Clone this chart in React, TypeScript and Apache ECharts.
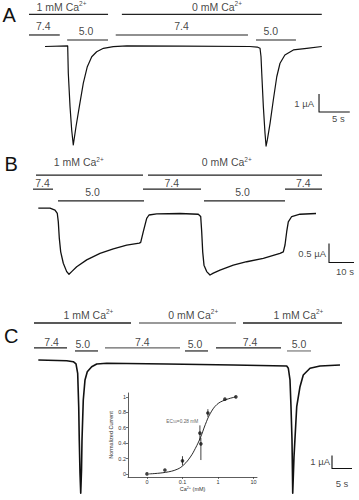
import React, { useEffect, useRef } from 'react';
import * as echarts from 'echarts';

// ---------------- DATA ----------------
// Panel A: current trace [time s, current µA]
const A_TRACE: [number, number][] = [
  [2.6, 0], [6.29, 0.03], [6.39, -1.49], [6.67, -3.34], [6.94, -4.64], [7.2, -5.47],
  [7.64, -4.46], [8.18, -3.34], [8.83, -2.04], [9.48, -1.12], [10.2, -0.57], [11.0, -0.29],
  [12.1, -0.1], [13.7, -0.01], [15.9, 0.03], [25, 0.02], [35.9, 0], [37.1, -0.03], [37.56, -0.1],
  [37.72, -0.57], [37.84, -1.49], [38.1, -3.34], [38.37, -4.82], [38.54, -5.53], [38.75, -5.19],
  [39.19, -4.27], [39.72, -2.97], [40.28, -1.68], [40.81, -0.93], [41.6, -0.47], [42.98, -0.19],
  [45.15, -0.1], [47.6, 0],
];
const A_CA_RANGES: [number, number][] = [[0, 12.85], [15.1, 47.6]];
const A_CA_MM = [1, 0];
const A_CA_LABEL_T = [5.28, 30.57];
const A_PH_RANGES: [number, number][] = [[0, 5], [6.2, 12.85], [14.1, 35.6], [36.9, 43.4]];
const A_PH = ['7.4', '5.0', '7.4', '5.0'];
const A_PH_LABEL_T = [2.33, 9.27, 24.8, 39.3];

// Panel B
const B_TRACE: [number, number][] = [
  [2.12, 0.18], [6.8, 0.18], [8.8, 0.13], [9.72, 0.04], [10.12, -0.18], [10.52, -0.61],
  [11.08, -0.97], [12.12, -1.27], [13.48, -1.49], [14.4, -1.56], [15.48, -1.49], [17.48, -1.36],
  [21.48, -1.18], [26.8, -1.01], [32.12, -0.89], [37.48, -0.79], [42.52, -0.74], [43.08, -0.72],
  [44.12, -0.44], [45.48, -0.09], [46.4, 0], [49.48, 0.03], [58.8, 0.04], [66.12, 0.02],
  [67.08, -0.04], [67.48, -0.44], [67.88, -0.97], [68.4, -1.32], [69.48, -1.49], [70.8, -1.58],
  [72.12, -1.53], [74.8, -1.45], [80.12, -1.32], [85.48, -1.23], [92.12, -1.14], [98.8, -1.01],
  [100.12, -0.97], [100.8, -0.79], [101.48, -0.44], [102.12, -0.18], [103.48, -0.04],
  [106.8, 0.02], [113.2, 0.04],
];
const B_CA_RANGES: [number, number][] = [[1.2, 44], [46, 115.6]];
const B_CA_MM = [1, 0];
const B_CA_LABEL_T = [18.3, 77.5];
const B_PH_RANGES: [number, number][] = [[0, 8], [10, 44.4], [44, 67.2], [68.4, 100.8], [100.8, 115.6]];
const B_PH = ['7.4', '5.0', '7.4', '5.0', '7.4'];
const B_PH_LABEL_T = [3.8, 23.8, 55.5, 83.8, 108.1];

// Panel C
const C_TRACE: [number, number][] = [
  [1.08, 0.15], [8.18, 0.1], [9.82, 0.02], [10.5, -0.15], [10.92, -0.87], [11.18, -3.44],
  [11.32, -6], [11.5, -8.56], [11.68, -10.1], [11.88, -8.3], [12.0, -6], [12.32, -2.92],
  [12.75, -1.38], [13.32, -0.75], [14.42, -0.36], [15.68, -0.15], [18.18, -0.1], [33.18, -0.15],
  [49.82, -0.23], [63.18, -0.31], [63.58, -0.48], [64, -1.38], [64.25, -3.44], [64.5, -6],
  [64.68, -10.1], [65, -7.28], [65.68, -3.44], [66.5, -1.9], [67.32, -1], [69, -0.48],
  [71.5, -0.31], [76.5, -0.23],
];
const C_CA_RANGES: [number, number][] = [[0, 24.25], [26.25, 50.5], [52.25, 77]];
const C_CA_MM = [1, 0, 1];
const C_CA_LABEL_T = [13.6, 39.8, 66.1];
const C_PH_RANGES: [number, number][] = [[0, 8.25], [10.25, 16], [17.75, 36.5], [37.75, 43.5], [45.5, 61.75], [63.25, 69.25]];
const C_PH = ['7.4', '5.0', '7.4', '5.0', '7.4', '5.0'];
const C_PH_LABEL_T = [4.4, 12.2, 27.1, 40.25, 54, 66.25];

// Scale bars
const SCALE_TIME_S = [5, 10, 5];
const SCALE_CURRENT_UA = [1, 0.5, 1];

// Inset: Ca2+ dose-response
const INSET_CONC = [0, 0.032, 0.1, 0.31, 0.33, 0.52, 1.57, 3.2];
const INSET_RESP = [0, 0.05, 0.17, 0.53, 0.39, 0.79, 0.97, 1.0];
const INSET_ERR_LO = [0, 0, 0.06, 0.1, 0.21, 0.05, 0, 0];
const INSET_ERR_HI = [0, 0, 0.06, 0.1, 0.08, 0.05, 0, 0];
const INSET_FIT_CONC = [0.0115, 0.033, 0.071, 0.11, 0.167, 0.23, 0.32, 0.44, 0.6, 0.93, 1.6, 3.2];
const INSET_FIT_RESP = [0, 0.02, 0.06, 0.12, 0.22, 0.33, 0.47, 0.64, 0.78, 0.9, 0.96, 1.0];
const INSET_X_TICKS = [0, 0.1, 1, 10];
const INSET_Y_TICKS = [0, 0.2, 0.4, 0.6, 0.8, 1];
const EC50_MM = 0.28;

// ---------------- LAYOUT / STYLE ----------------
const FONT = '"Liberation Sans", Arial, Helvetica, sans-serif';
const INK = '#111';
const ZERO_AT = 0.01; // where "0" concentration sits on the log axis

const PANELS = [
  {
    grid: { left: 29, top: 1.5, width: 326, height: 153 }, x: [0, 53], y: [-6, 2.5],
    caBarY: 1.78, caLabelY: 2.22, phBarY: { '7.4': 0.64, '5.0': 0.36 } as any, phLabelY: { '7.4': 1.15, '5.0': 0.88 } as any,
    scaleAt: [47.15, -3.64], uaDist: 5, sDist: 1.5, sOff: 4, traceWidth: 1.2,
    letter: 'A', letterPos: [2.5, 4.5],
  },
  {
    grid: { left: 33, top: 154.2, width: 325, height: 133 }, x: [0, 130], y: [-1.9, 1.6],
    caBarY: 1.05, caLabelY: 1.39, phBarY: { '7.4': 0.68, '5.0': 0.37 } as any, phLabelY: { '7.4': 0.83, '5.0': 0.6 } as any,
    scaleAt: [118.4, -1.25], uaDist: 3, sDist: 3.5, sOff: 3.5, traceWidth: 1.3,
    letter: 'B', letterPos: [4.5, 153.5],
  },
  {
    grid: { left: 34, top: 299.6, width: 324, height: 200.2 }, x: [0, 81], y: [-10.6, 4.8],
    caBarY: 3.0, caLabelY: 3.62, phBarY: { '7.4': 1.08, '5.0': 0.85 } as any, phLabelY: { '7.4': 1.53, '5.0': 1.36 } as any,
    scaleAt: [74.5, -8.19], uaDist: 2, sDist: 10, sOff: 0, traceWidth: 1.6,
    letter: 'C', letterPos: [4, 326],
  },
];
const C_CA_COLORS = ['#222', '#777', '#222'];
const C_PH_COLORS = ['#222', '#222', '#666', '#222', '#222', '#777'];

const RICH = {
  sup: { fontSize: 6.5, lineHeight: 7, verticalAlign: 'top' as const, fontFamily: FONT, color: INK },
};

function caText(mm: number) {
  return `${mm} mM Ca{sup|2+}`;
}

function buildOption() {
  const traces = [A_TRACE, B_TRACE, C_TRACE];
  const caRanges = [A_CA_RANGES, B_CA_RANGES, C_CA_RANGES];
  const caMM = [A_CA_MM, B_CA_MM, C_CA_MM];
  const caLabelT = [A_CA_LABEL_T, B_CA_LABEL_T, C_CA_LABEL_T];
  const phRanges = [A_PH_RANGES, B_PH_RANGES, C_PH_RANGES];
  const phVals = [A_PH, B_PH, C_PH];
  const phLabelT = [A_PH_LABEL_T, B_PH_LABEL_T, C_PH_LABEL_T];

  const grids: any[] = [];
  const xAxes: any[] = [];
  const yAxes: any[] = [];
  const series: any[] = [];

  const seg = (g: number, data: any[], color: string, width: number) => ({
    type: 'line', xAxisIndex: g, yAxisIndex: g, data, symbol: 'none', silent: true, clip: false,
    lineStyle: { color, width, cap: 'butt', join: 'round' },
  });

  PANELS.forEach((p, g) => {
    grids.push({ ...p.grid, containLabel: false });
    xAxes.push({ gridIndex: g, type: 'value', min: p.x[0], max: p.x[1], show: false });
    yAxes.push({ gridIndex: g, type: 'value', min: p.y[0], max: p.y[1], show: false });

    // trace
    series.push(seg(g, traces[g], INK, p.traceWidth));

    // Ca bars
    caRanges[g].forEach((r, i) => {
      const col = g === 2 ? C_CA_COLORS[i] : '#222';
      series.push(seg(g, [[r[0], p.caBarY], [r[1], p.caBarY]], col, 1.3));
    });
    // pH bars
    phRanges[g].forEach((r, i) => {
      const y = p.phBarY[phVals[g][i]];
      const col = g === 2 ? C_PH_COLORS[i] : '#222';
      series.push(seg(g, [[r[0], y], [r[1], y]], col, 1.2));
    });

    // text labels for bars
    const lab: any[] = [];
    caMM[g].forEach((mm, i) => lab.push({ value: [caLabelT[g][i], p.caLabelY], label: { formatter: caText(mm) } }));
    phVals[g].forEach((ph, i) => lab.push({ value: [phLabelT[g][i], p.phLabelY[ph]], label: { formatter: ph } }));
    series.push({
      type: 'scatter', xAxisIndex: g, yAxisIndex: g, symbolSize: 0, silent: true,
      itemStyle: { color: 'transparent' }, data: lab,
      label: { show: true, position: 'inside', color: INK, fontFamily: FONT, fontSize: 10.5, lineHeight: 13, rich: RICH },
    });

    // scale bar
    const [t0, i0] = p.scaleAt;
    const dt = SCALE_TIME_S[g];
    const di = SCALE_CURRENT_UA[g];
    series.push(seg(g, [[t0, i0 + di], [t0, i0], [t0 + dt, i0]], INK, 1.1));
    series.push({
      type: 'scatter', xAxisIndex: g, yAxisIndex: g, symbolSize: 0, silent: true,
      itemStyle: { color: 'transparent' },
      data: [
        { value: [t0, i0 + di / 2], label: { formatter: `${di} µA`, position: 'left', distance: p.uaDist } },
        { value: [t0 + dt / 2, i0], label: { formatter: `${dt} s`, position: 'bottom', distance: p.sDist, offset: [p.sOff, 0] } },
      ],
      label: { show: true, color: INK, fontFamily: FONT, fontSize: 9.5 },
    });
  });

  // ---- inset ----
  const gi = 3;
  const xpos = (c: number) => Math.log10(c === 0 ? ZERO_AT : c);
  const xTickPos = INSET_X_TICKS.map(xpos);
  const axisFont = { fontFamily: FONT, fontSize: 5.5, color: '#333' };
  grids.push({ left: 128, top: 393, width: 129, height: 84 });
  xAxes.push({
    gridIndex: gi, type: 'value', min: -2.535, max: 1.1,
    axisLine: { show: true, onZero: false, lineStyle: { color: '#333', width: 0.8 } },
    axisTick: { show: true, length: 2, customValues: xTickPos, lineStyle: { color: '#333', width: 0.7 } },
    axisLabel: {
      show: true, customValues: xTickPos, margin: 2, ...axisFont,
      formatter: (v: number) => {
        const i = xTickPos.findIndex((q) => Math.abs(q - v) < 1e-6);
        return i >= 0 ? String(INSET_X_TICKS[i]) : '';
      },
    },
    splitLine: { show: false },
    name: 'Ca{sup|2+} (mM)', nameLocation: 'middle', nameGap: 9,
    nameTextStyle: { ...axisFont, rich: { sup: { fontSize: 3.8, lineHeight: 4, verticalAlign: 'top', fontFamily: FONT, color: '#333' } } },
  });
  yAxes.push({
    gridIndex: gi, type: 'value', min: -0.04, max: 1.05,
    axisLine: { show: true, onZero: false, lineStyle: { color: '#333', width: 0.8 } },
    axisTick: { show: true, length: 2, customValues: INSET_Y_TICKS, lineStyle: { color: '#333', width: 0.7 } },
    axisLabel: {
      show: true, customValues: INSET_Y_TICKS, margin: 2, ...axisFont,
      formatter: (v: number) => (v === 0 || v === 1 ? String(v) : v.toFixed(1)),
    },
    splitLine: { show: false },
    name: 'Normalized Current', nameLocation: 'middle', nameGap: 10, nameRotate: 90,
    nameTextStyle: { ...axisFont },
  });
  series.push({
    type: 'line', xAxisIndex: gi, yAxisIndex: gi, symbol: 'none', smooth: 0.4, silent: true,
    data: INSET_FIT_CONC.map((c, i) => [xpos(c), INSET_FIT_RESP[i]]),
    lineStyle: { color: INK, width: 0.9 },
  });
  series.push({
    type: 'custom', xAxisIndex: gi, yAxisIndex: gi, silent: true,
    data: INSET_CONC.map((c, i) => [xpos(c), INSET_RESP[i], INSET_ERR_LO[i], INSET_ERR_HI[i]]),
    renderItem: (_p: any, api: any) => {
      const x = api.value(0);
      const y = api.value(1);
      const lo = api.coord([x, y - api.value(2)]);
      const hi = api.coord([x, y + api.value(3)]);
      return { type: 'line', shape: { x1: lo[0], y1: lo[1], x2: hi[0], y2: hi[1] }, style: { stroke: INK, lineWidth: 0.8 } };
    },
  });
  series.push({
    type: 'scatter', xAxisIndex: gi, yAxisIndex: gi, symbol: 'circle', symbolSize: 3.6, silent: true,
    data: INSET_CONC.map((c, i) => [xpos(c), INSET_RESP[i]]),
    itemStyle: { color: INK },
  });
  // EC50 label
  series.push({
    type: 'scatter', xAxisIndex: gi, yAxisIndex: gi, symbolSize: 0, silent: true,
    itemStyle: { color: 'transparent' },
    data: [{ value: [xpos(EC50_MM), 0.68], label: { formatter: `EC{sub|50}=${EC50_MM} mM` } }],
    label: {
      show: true, position: 'left', distance: 0, fontFamily: FONT, fontSize: 4.8, color: '#333',
      rich: { sub: { fontSize: 3.5, lineHeight: 4, verticalAlign: 'bottom', fontFamily: FONT, color: '#333' } },
    },
  });

  const graphic = PANELS.map((p) => ({
    type: 'text', left: p.letterPos[0], top: p.letterPos[1], silent: true,
    style: { text: p.letter, font: `20px ${FONT}`, fill: INK },
  }));

  return {
    animation: false,
    backgroundColor: '#fff',
    grid: grids,
    xAxis: xAxes,
    yAxis: yAxes,
    series,
    graphic,
  };
}

export default function App() {
  const ref = useRef<HTMLDivElement>(null);
  useEffect(() => {
    if (!ref.current) return;
    const chart = echarts.init(ref.current, null, { renderer: 'svg' });
    chart.setOption(buildOption() as any);
    return () => chart.dispose();
  }, []);
  return (
    <div
      ref={ref}
      style={{ position: 'absolute', left: 0, top: 0, width: 359, height: 500, background: '#fff' }}
    />
  );
}
